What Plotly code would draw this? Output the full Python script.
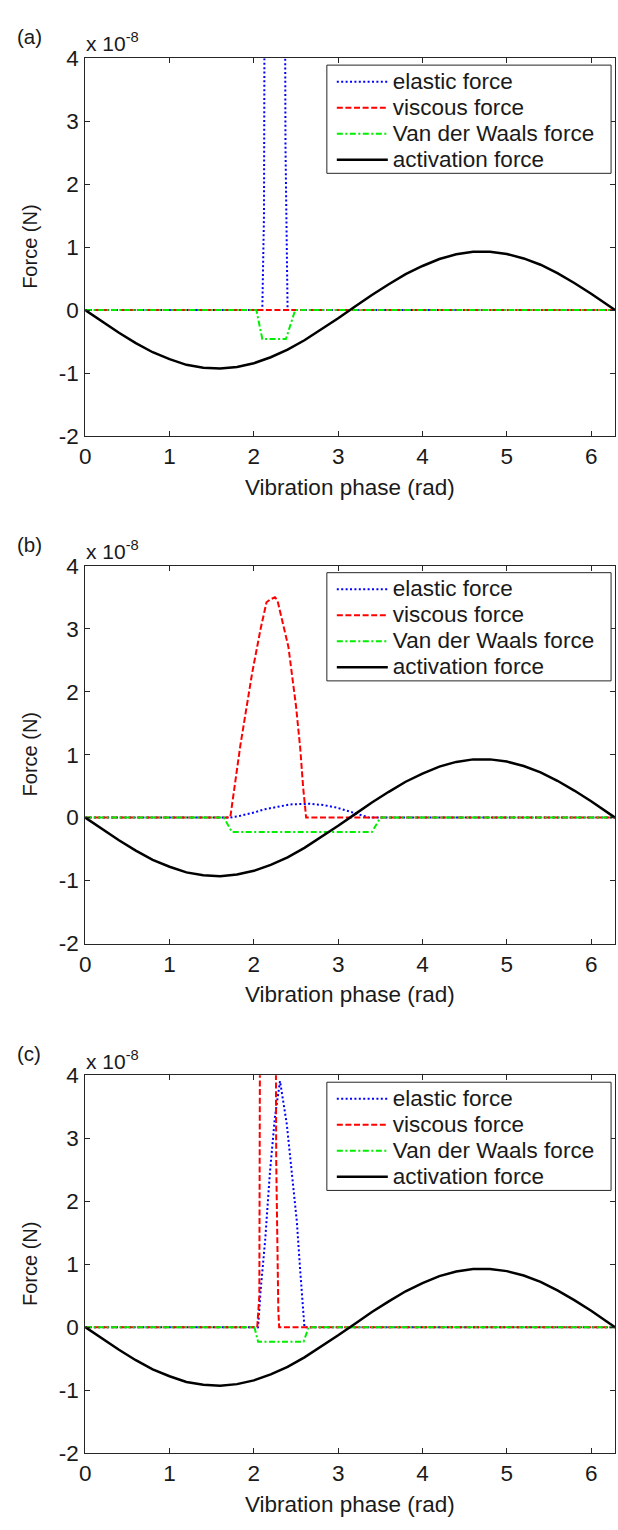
import plotly.graph_objects as go

# Forces are given in units of 1e-8 N (the axis carries the "x 10^-8" multiplier).
FULL_TURN = 6.2832

# Activation force, identical in all three cases
act_phase = [0, 0.2, 0.4, 0.6, 0.8, 1.0, 1.2, 1.4, 1.6, 1.8, 2.0, 2.2, 2.4, 2.6, 2.8, 3.0,
             3.2, 3.4, 3.6, 3.8, 4.0, 4.2, 4.4, 4.6, 4.8, 5.0, 5.2, 5.4, 5.6, 5.8, 6.0, 6.2, 6.2832]
act_force = [0, -0.185, -0.36, -0.525, -0.67, -0.78, -0.87, -0.915, -0.93, -0.905, -0.845,
             -0.75, -0.63, -0.48, -0.31, -0.13, 0.055, 0.24, 0.41, 0.57, 0.70, 0.81, 0.885,
             0.925, 0.925, 0.89, 0.82, 0.72, 0.585, 0.43, 0.26, 0.08, 0]

# Case (a)
a_elastic_phase = [0, 2.10, 2.12, 2.135, 2.36, 2.375, 2.40, 6.2832]
a_elastic = [0, 0, 1.5, 9.0, 9.0, 2.6, 0, 0]
a_viscous_phase = [0, 2.10, 2.40, 6.2832]
a_viscous = [0, 0, 0, 0]
a_vdw_phase = [0, 2.03, 2.10, 2.38, 2.49, 6.2832]
a_vdw = [0, 0, -0.46, -0.46, 0, 0]

# Case (b)
b_elastic_phase = [0, 1.72, 1.84, 2.00, 2.12, 2.26, 2.43, 2.66, 2.82, 2.98, 3.12, 3.25, 3.37, 6.2832]
b_elastic = [0, 0, 0.03, 0.08, 0.13, 0.17, 0.21, 0.22, 0.20, 0.16, 0.10, 0.05, 0, 0]
b_viscous_phase = [0, 1.72, 1.84, 1.98, 2.08, 2.15, 2.20, 2.25, 2.28, 2.33, 2.41, 2.50, 2.55,
                   2.585, 2.62, 6.2832]
b_viscous = [0, 0, 1.15, 2.3, 3.0, 3.42, 3.47, 3.5, 3.45, 3.18, 2.71, 1.77, 1.1, 0.47, 0, 0]
b_vdw_phase = [0, 1.645, 1.74, 3.40, 3.50, 6.2832]
b_vdw = [0, 0, -0.23, -0.23, 0, 0]

# Case (c)
c_elastic_phase = [0, 2.05, 2.08, 2.135, 2.19, 2.25, 2.31, 2.39, 2.45, 2.51, 2.55, 2.585, 2.60, 6.2832]
c_elastic = [0, 0, 0.58, 1.4, 2.45, 3.34, 3.91, 3.23, 2.45, 1.67, 0.89, 0.27, 0, 0]
c_viscous_phase = [0, 2.04, 2.065, 2.08, 2.25, 2.265, 2.29, 2.30, 6.2832]
c_viscous = [0, 0, 0.5, 9.0, 9.0, 2.65, 0.27, 0, 0]
c_vdw_phase = [0, 2.006, 2.05, 2.59, 2.65, 6.2832]
c_vdw = [0, 0, -0.23, -0.23, 0, 0]

panel_labels = ["(a)", "(b)", "(c)"]
series_names = ["elastic force", "viscous force", "Van der Waals force", "activation force"]
x_tickvals = [0, 1, 2, 3, 4, 5, 6]
x_ticktext = ["0", "1", "2", "3", "4", "5", "6"]
y_tickvals = [-2, -1, 0, 1, 2, 3, 4]
y_ticktext = ["-2", "-1", "0", "1", "2", "3", "4"]

W, H = 618, 1530
FONT = "Liberation Sans, Arial, sans-serif"
INK = "#1a1a1a"
FS = 22.5

# panel geometry in pixels
LEFT, RIGHT = 80, 615
TOPS = [47, 563, 1081]
PLOT_H = 384
# legend frame, relative to each panel
LEG_L, LEG_R, LEG_DY, LEG_H = 324, 611, 7, 110


def px_x(p):
    return p / W


def px_y(p):
    return 1 - p / H


panels = [
    (a_elastic_phase, a_elastic, a_viscous_phase, a_viscous, a_vdw_phase, a_vdw),
    (b_elastic_phase, b_elastic, b_viscous_phase, b_viscous, b_vdw_phase, b_vdw),
    (c_elastic_phase, c_elastic, c_viscous_phase, c_viscous, c_vdw_phase, c_vdw),
]

styles = [
    dict(color="#0000ff", width=2, dash="2px,2.4px"),
    dict(color="#ff0000", width=2, dash="6px,2.6px"),
    dict(color="#00ee00", width=2, dash="6px,2.5px,2px,2.5px"),
    dict(color="#000000", width=2.5, dash="solid"),
]

fig = go.Figure()
layout = dict(
    width=W, height=H,
    margin=dict(l=0, r=0, t=0, b=0),
    paper_bgcolor="white", plot_bgcolor="white",
    font=dict(family=FONT, size=FS, color=INK),
    showlegend=True,
)
annotations = []
shapes = []

for i, (ep, ev, vp, vv, wp, wv) in enumerate(panels):
    sfx = "" if i == 0 else str(i + 1)
    xa, ya = "x" + sfx, "y" + sfx
    leg = "legend" + sfx
    series = [(ep, ev), (vp, vv), (wp, wv), (act_phase, act_force)]
    for name, (xs, ys), st in zip(series_names, series, styles):
        fig.add_trace(go.Scatter(
            x=xs, y=ys, mode="lines", line=st,
            # legend rows are spaced by the legend font size; the label itself is drawn larger
            name=f'<span style="font-size:{FS}px">{name}</span>',
            xaxis=xa, yaxis=ya, legend=leg, hoverinfo="skip",
        ))

    top = TOPS[i]
    bottom = top + PLOT_H
    axis_common = dict(
        showline=True, linecolor="#262626", linewidth=1, mirror="ticks",
        ticks="inside", ticklen=5, tickcolor="#262626", tickwidth=1,
        showgrid=False, zeroline=False, fixedrange=True,
        tickfont=dict(family=FONT, size=FS, color=INK),
    )
    layout["xaxis" + sfx] = dict(
        axis_common, domain=[px_x(LEFT), px_x(RIGHT)], range=[0, FULL_TURN],
        tickvals=x_tickvals, ticktext=x_ticktext, anchor=ya,
    )
    layout["yaxis" + sfx] = dict(
        axis_common, domain=[px_y(bottom), px_y(top)], range=[-2, 4],
        tickvals=y_tickvals, ticktext=y_ticktext, anchor=xa, ticklabelstandoff=1,
    )

    # white legend frame drawn over the curves; the legend entries sit inside it
    shapes.append(dict(
        type="rect", xref="paper", yref="paper", layer="above",
        x0=px_x(LEG_L), x1=px_x(LEG_R),
        y0=px_y(top + LEG_DY + LEG_H), y1=px_y(top + LEG_DY),
        fillcolor="white", line=dict(color="#262626", width=1),
    ))
    layout[leg] = dict(
        x=px_x(LEG_L + 5), y=px_y(top + LEG_DY - 1.5), xanchor="left", yanchor="top",
        bgcolor="rgba(0,0,0,0)", borderwidth=0,
        font=dict(family=FONT, size=17.7, color=INK),
        itemwidth=51, tracegroupgap=0,
    )

    annotations += [
        dict(text=panel_labels[i], x=px_x(9), y=px_y(top - 22), xref="paper", yref="paper",
             xanchor="left", yanchor="middle", showarrow=False,
             font=dict(family=FONT, size=20.5, color=INK)),
        dict(text="x 10<sup>-8</sup>", x=px_x(79), y=px_y(top - 16), xref="paper", yref="paper",
             xanchor="left", yanchor="middle", showarrow=False,
             font=dict(family=FONT, size=21, color=INK)),
        dict(text="Force (N)", x=px_x(24), y=px_y(top + PLOT_H / 2), xref="paper", yref="paper",
             xanchor="center", yanchor="middle", textangle=-90, showarrow=False,
             font=dict(family=FONT, size=20, color=INK)),
        dict(text="Vibration phase (rad)", x=px_x((LEFT + RIGHT) / 2), y=px_y(bottom + 52),
             xref="paper", yref="paper", xanchor="center", yanchor="middle", showarrow=False,
             font=dict(family=FONT, size=FS, color=INK)),
    ]

layout["annotations"] = annotations
layout["shapes"] = shapes
fig.update_layout(**layout)
fig.write_html("out.html")
